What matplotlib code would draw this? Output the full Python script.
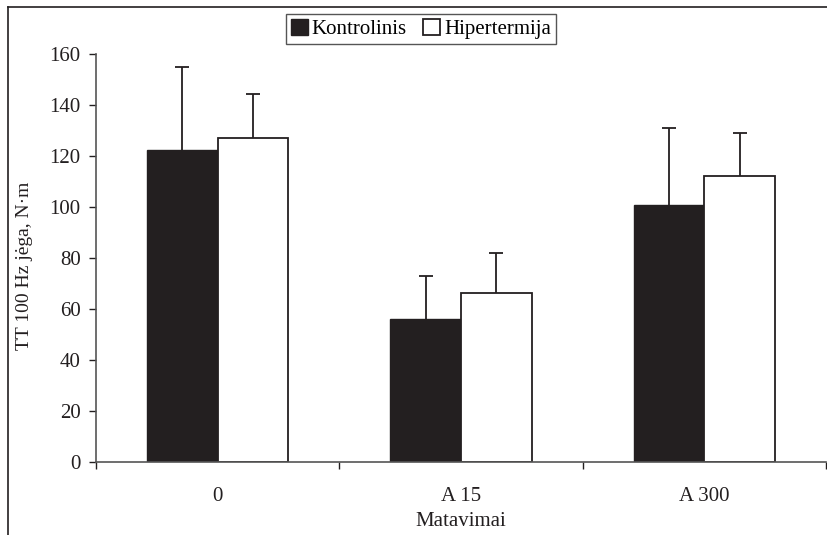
import matplotlib
matplotlib.use("Agg")
import matplotlib.pyplot as plt
import numpy as np
from matplotlib.lines import Line2D

categories = ["0", "A 15", "A 300"]
kontrolinis = [122.4, 56.0, 100.8]
kontrolinis_err = [32.5, 17.0, 30.0]
hipertermija = [127.2, 66.1, 112.3]
hipertermija_err = [17.2, 16.0, 16.6]

plt.rcParams['font.family'] = ['Liberation Serif', 'DejaVu Serif']
dark = '#231f20'
fs = 15

fig = plt.figure(figsize=(8.28, 5.35), dpi=100)
ax = fig.add_axes([96/828, 1-462/535, (826-96)/828, (462-54)/535])

x = np.arange(len(categories))
w = 0.29
ax.bar(x - w/2, kontrolinis, w, color=dark, edgecolor=dark, linewidth=1.0,
       label='Kontrolinis', zorder=2)
ax.bar(x + w/2, hipertermija, w, color='white', edgecolor=dark, linewidth=1.3,
       label='Hipertermija', zorder=2)
for xs, vals, errs in [(x - w/2, kontrolinis, kontrolinis_err), (x + w/2, hipertermija, hipertermija_err)]:
    eb = ax.errorbar(xs, vals, yerr=[np.zeros(3), errs], fmt='none',
                     ecolor=dark, elinewidth=1.3, capsize=5, capthick=1.3, zorder=3)
    eb[1][0].set_visible(False)

ax.set_xlim(-0.5, 2.5)
ax.set_ylim(0, 160)
ax.set_yticks(np.arange(0, 161, 20))
ax.set_xticks(x)
ax.set_xticklabels(categories)
ax.set_xticks([-0.5, 0.5, 1.5, 2.5], minor=True)
ax.tick_params(axis='x', which='major', length=0, labelsize=fs, pad=18, colors=dark)
ax.tick_params(axis='x', which='minor', length=5, width=1, color=dark, direction='out')
ax.tick_params(axis='y', length=5, width=1, color=dark, labelsize=fs, labelcolor=dark, direction='out', pad=6)

for s in ['top', 'right']:
    ax.spines[s].set_visible(False)
for s in ['left', 'bottom']:
    ax.spines[s].set_color('#555555')
    ax.spines[s].set_linewidth(1.2)

ax.set_ylabel('TT 100 Hz jėga, N·m', fontsize=14, color=dark)
ax.yaxis.set_label_coords((33-96)/730, (462-266)/408)
ax.set_xlabel('Matavimai', fontsize=fs, color=dark, labelpad=4)

leg = fig.legend(loc='center', bbox_to_anchor=(421/828, 1-29/535), ncol=2, fontsize=fs,
                 frameon=True, fancybox=False, edgecolor='#555555', framealpha=1,
                 handlelength=0.8, handleheight=0.8, handletextpad=0.2, columnspacing=0.8,
                 borderpad=0.25, borderaxespad=0)
leg.get_frame().set_linewidth(1.0)

fig.add_artist(Line2D([8/828, 8/828], [0, 1-7/535], transform=fig.transFigure, color=dark, lw=1.2))
fig.add_artist(Line2D([8/828, 1], [1-7/535, 1-7/535], transform=fig.transFigure, color=dark, lw=1.2))

fig.savefig('out.png', dpi=100)
